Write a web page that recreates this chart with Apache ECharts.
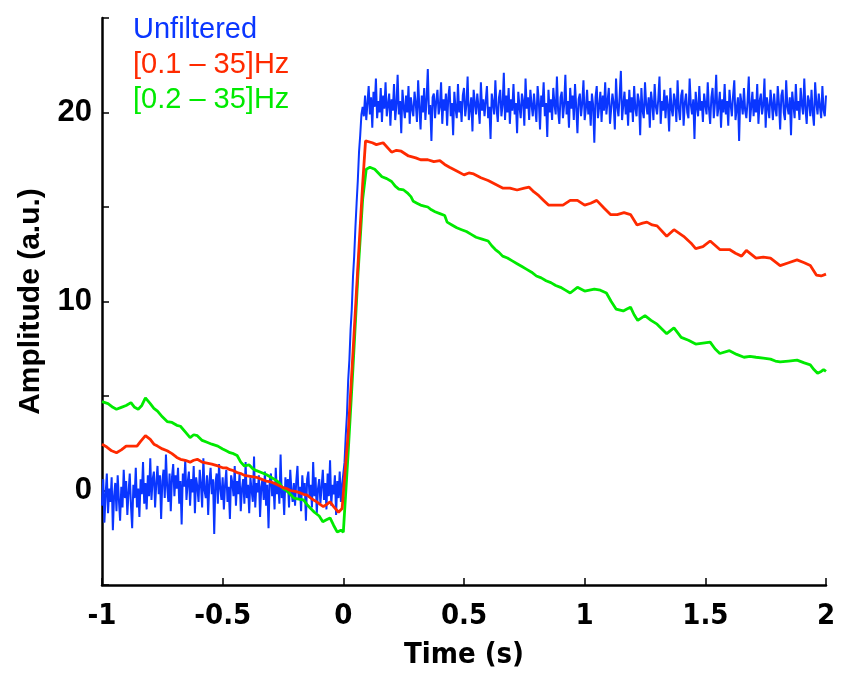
<!DOCTYPE html>
<html>
<head>
<meta charset="utf-8">
<script src="https://cdn.jsdelivr.net/npm/echarts@6/dist/echarts.min.js"></script>
<style>
  html, body { margin: 0; padding: 0; background: #fff; }
  #chart { width: 841px; height: 675px; }
</style>
</head>
<body>
<div id="chart"></div>
<script>
// series names (legend)
const seriesNames = ['Unfiltered', '[0.1 \u2013 35]Hz', '[0.2 \u2013 35]Hz']

// unfiltered signal, sampled every 0.005 s from -1 s
const blueStart = -1
const blueStep = 0.005
const blueValues = [
  // -1.0 .. 0
  -0.8, 0.6, -1.7, -0.2, 0.9, -1.2, 0.1, -0.6, 0.7, -2.1, -0.3, 0.4, -1.1, 0.8, -0.5, -1.6, 0.2, -0.9, 1.1, -0.4,
  0.5, -1.3, -0.1, 0.9, -0.8, -2.0, 0.3, -0.4, 1.2, -0.9, 0.1, -1.4, 0.6, -0.2, 1.5, -0.7, 0.4, -1.0, 0.8, -0.3,
  1.7, -0.5, 0.6, 1.0, -0.9, 0.4, 1.3, -0.2, 0.8, -1.5, 0.5, 1.1, -0.4, 1.9, 0.2, -0.6, 0.9, -1.1, 0.7, 1.4,
  -0.3, 0.8, 0.1, 1.2, -0.7, 0.5, -1.8, 0.9, 0.2, 1.6, -0.5, 0.4, 1.0, -0.8, 0.6, -0.1, 1.3, -1.2, 0.7, 0.2,
  -0.6, 1.1, 0.3, -0.9, 1.7, 0.0, -0.4, 0.8, -1.3, 0.5, 1.2, -0.2, 0.6, -2.3, 0.4, 0.9, -0.7, 1.4, 0.1, -0.5,
  0.7, -1.0, 0.3, 1.1, -0.6, 0.2, -1.5, 0.8, 0.4, -0.3, 1.3, -0.8, 0.5, -0.2, 0.9, -1.1, 0.1, 0.6, -0.7, 1.5,
  -0.4, 0.3, -1.2, 0.7, 0.0, -0.6, 1.8, -0.9, 0.4, -0.1, 0.8, -1.4, 0.2, 0.6, -0.5, 1.0, -0.8, 0.3, -2.0, 0.5,
  0.9, -0.3, 0.4, -1.0, 1.2, -0.2, 0.5, -0.7, 1.9, -0.4, 0.1, -1.3, 0.7, -0.1, 0.6, -0.9, 1.1, 0.0, -0.6, 0.4,
  -0.8, 0.5, 1.3, -0.5, 0.2, -1.1, 0.8, -0.2, 0.4, -1.6, 0.6, 1.0, -0.4, 0.3, -0.9, 1.5, -0.3, 0.7, -1.2, 0.1,
  0.6, -0.7, 0.2, 1.1, -0.5, 0.4, -1.0, 0.9, -0.3, 1.6, -0.8, 0.3, -0.2, 0.8, -1.3, 0.5, -0.4, 1.0, -0.6, 0.3,
  // step 0 .. 0.085
  0.4, 1.5, 2.9, 4.0, 5.8, 6.9, 8.5, 9.6, 11.3, 12.4, 13.9, 15.2, 16.4, 17.9, 18.8, 19.9, 20.3, 19.8,
  // 0.09 .. 2.0
  20.9, 19.6, 20.5, 21.4, 19.9, 20.8, 19.2, 21.1, 20.3, 21.8, 19.7, 20.6, 20.0, 21.3, 19.5, 20.9, 20.2, 21.6, 19.8, 20.4,
  21.0, 19.3, 20.7, 20.1, 21.5, 19.6, 20.4, 22.0, 19.9, 20.6, 18.9, 21.2, 20.3, 19.7, 20.9, 20.0, 21.4, 19.4, 20.8, 20.2,
  19.8, 21.1, 20.5, 19.5, 21.7, 20.3, 19.1, 20.9, 20.0, 21.3, 19.6, 20.7, 22.3, 19.9, 20.4, 18.5, 20.8, 21.0, 19.7, 20.6,
  21.2, 19.9, 20.3, 21.6, 19.4, 20.7, 20.1, 21.0, 19.3, 20.8, 21.4, 19.8, 20.5, 18.8, 21.1, 20.2, 19.7, 21.5, 20.0, 20.6,
  19.5, 20.9, 21.3, 19.8, 20.4, 21.9, 19.6, 20.2, 20.8, 19.0, 21.2, 20.5, 19.9, 21.0, 20.3, 19.4, 21.6, 20.1, 20.7, 19.8,
  20.6, 21.4, 19.7, 20.3, 18.6, 21.0, 20.5, 19.9, 21.7, 20.2, 19.5, 20.8, 21.2, 19.8, 20.4, 22.1, 19.6, 20.9, 20.0, 21.3,
  19.4, 20.7, 20.1, 21.5, 19.9, 20.5, 18.9, 21.1, 20.3, 19.7, 21.0, 20.6, 19.3, 21.8, 20.2, 20.8, 19.6, 21.2, 20.4, 19.8,
  21.0, 20.2, 19.5, 21.4, 20.6, 19.1, 20.9, 20.3, 21.6, 19.8, 20.5, 18.7, 21.2, 20.0, 20.7, 19.6, 21.3, 20.4, 19.9, 21.9,
  20.1, 19.4, 20.8, 21.1, 19.7, 20.4, 22.0, 19.9, 20.6, 19.2, 21.3, 20.2, 20.9, 19.6, 21.5, 20.3, 18.9, 20.7, 21.0, 19.8,
  20.5, 21.7, 19.6, 20.2, 21.2, 19.9, 20.6, 19.3, 21.0, 20.4, 18.4, 20.8, 21.4, 19.7, 20.3, 21.1, 19.5, 20.9, 20.1, 21.6,
  19.9, 20.6, 21.3, 19.4, 20.2, 21.0, 20.5, 19.1, 21.8, 20.3, 19.8, 20.9, 22.2, 19.6, 20.4, 21.1, 19.9, 20.7, 19.3, 21.2,
  20.0, 20.8, 19.5, 21.4, 20.2, 19.8, 21.0, 20.6, 18.8, 21.3, 20.1, 19.7, 21.6, 20.4, 19.9, 20.8, 19.2, 21.1, 20.5, 19.6,
  21.5, 20.3, 19.9, 20.7, 21.9, 19.4, 20.6, 20.1, 21.2, 19.7, 20.9, 20.4, 19.0, 21.3, 20.2, 19.8, 21.0, 20.6, 19.5, 21.7,
  20.2, 19.6, 20.9, 21.2, 19.3, 20.5, 21.0, 20.0, 19.7, 21.8, 20.4, 19.9, 20.7, 18.6, 21.1, 20.3, 19.8, 21.4, 20.1, 20.6,
  19.5, 21.0, 20.4, 19.9, 21.6, 20.2, 19.4, 20.8, 21.3, 19.7, 20.5, 22.0, 19.8, 20.3, 21.1, 19.2, 20.7, 20.0, 21.5, 19.9,
  20.6, 19.3, 21.2, 20.4, 19.8, 20.9, 21.7, 19.6, 20.2, 20.8, 18.5, 21.0, 20.5, 19.9, 21.3, 20.1, 19.7, 20.6, 21.9, 19.5,
  20.3, 21.1, 19.8, 20.7, 20.0, 21.5, 19.4, 20.6, 21.0, 19.9, 20.4, 21.8, 19.2, 20.8, 20.3, 19.7, 21.2, 20.5, 19.6, 21.0,
  20.2, 19.8, 21.4, 20.5, 19.1, 20.9, 21.2, 20.0, 19.6, 21.7, 20.3, 19.9, 20.8, 18.8, 21.1, 20.4, 19.7, 21.5, 20.1, 20.6,
  19.6, 21.3, 20.4, 19.9, 21.8, 20.2, 19.4, 20.9, 20.6, 19.8, 21.2, 20.0, 19.3, 21.6, 20.5, 19.9, 21.0, 20.3, 19.7, 21.4,
  20.1, 19.8, 20.9
]

// [0.1 - 35] Hz filtered: [time, amplitude]
const redPoints = [
  [-1.0, 2.45], [-0.98, 2.3], [-0.96, 2.1], [-0.94, 2.0], [-0.92, 2.15], [-0.9, 2.35], [-0.875, 2.35], [-0.855, 2.35],
  [-0.84, 2.6], [-0.82, 2.9], [-0.8, 2.7], [-0.785, 2.45], [-0.77, 2.35], [-0.75, 2.2], [-0.73, 2.1], [-0.71, 1.95],
  [-0.69, 1.75], [-0.675, 1.65], [-0.655, 1.6], [-0.635, 1.5], [-0.62, 1.6], [-0.605, 1.65], [-0.585, 1.5], [-0.565, 1.45],
  [-0.545, 1.4], [-0.52, 1.3], [-0.5, 1.2], [-0.485, 1.2], [-0.47, 1.1], [-0.455, 1.05], [-0.44, 0.95], [-0.425, 0.9],
  [-0.41, 0.8], [-0.385, 0.75], [-0.36, 0.7], [-0.34, 0.6], [-0.32, 0.5], [-0.3, 0.45], [-0.28, 0.35], [-0.265, 0.25],
  [-0.25, 0.15], [-0.235, 0.1], [-0.22, 0.0], [-0.2, -0.05], [-0.185, -0.1], [-0.165, -0.2], [-0.15, -0.25], [-0.13, -0.45],
  [-0.11, -0.6], [-0.095, -0.75], [-0.083, -0.85], [-0.07, -0.75], [-0.055, -0.6], [-0.04, -0.85], [-0.02, -1.15], [-0.005, -0.95],
  [0.0, -1.0], [0.02, 3.0], [0.04, 7.3], [0.06, 11.8], [0.08, 16.2], [0.092, 18.5], [0.1, 18.6], [0.12, 18.4],
  [0.137, 18.3], [0.165, 18.4], [0.2, 17.9], [0.22, 18.0], [0.24, 17.95], [0.27, 17.7], [0.3, 17.6], [0.32, 17.5],
  [0.35, 17.5], [0.375, 17.4], [0.4, 17.45], [0.42, 17.25], [0.44, 17.1], [0.47, 16.9], [0.5, 16.7], [0.52, 16.8],
  [0.54, 16.75], [0.57, 16.55], [0.6, 16.4], [0.63, 16.2], [0.66, 16.0], [0.69, 16.0], [0.72, 15.9], [0.75, 16.0],
  [0.77, 16.05], [0.79, 15.8], [0.81, 15.6], [0.83, 15.35], [0.85, 15.1], [0.88, 15.1], [0.91, 15.1], [0.94, 15.35],
  [0.97, 15.35], [1.0, 15.1], [1.025, 15.2], [1.05, 15.35], [1.08, 14.95], [1.107, 14.6], [1.135, 14.6], [1.163, 14.7],
  [1.19, 14.6], [1.217, 14.05], [1.24, 14.15], [1.258, 14.2], [1.28, 14.05], [1.3, 14.0], [1.34, 13.45], [1.37, 13.8],
  [1.41, 13.45], [1.44, 13.1], [1.46, 12.8], [1.49, 12.9], [1.52, 13.2], [1.56, 12.75], [1.6, 12.75], [1.625, 12.55],
  [1.65, 12.4], [1.67, 12.7], [1.71, 12.3], [1.74, 12.35], [1.77, 12.3], [1.81, 11.9], [1.845, 12.05], [1.88, 12.2],
  [1.91, 12.05], [1.935, 11.9], [1.96, 11.4], [1.98, 11.35], [2.0, 11.45]
]

// [0.2 - 35] Hz filtered: [time, amplitude]
const greenPoints = [
  [-1.0, 4.7], [-0.975, 4.6], [-0.955, 4.4], [-0.94, 4.3], [-0.92, 4.4], [-0.9, 4.5], [-0.88, 4.65], [-0.865, 4.4],
  [-0.85, 4.3], [-0.835, 4.5], [-0.82, 4.9], [-0.8, 4.6], [-0.785, 4.35], [-0.77, 4.2], [-0.75, 3.9], [-0.73, 3.65],
  [-0.71, 3.6], [-0.69, 3.45], [-0.675, 3.4], [-0.655, 3.1], [-0.635, 2.8], [-0.62, 2.95], [-0.605, 2.9], [-0.585, 2.65],
  [-0.565, 2.55], [-0.545, 2.45], [-0.52, 2.35], [-0.5, 2.2], [-0.485, 2.1], [-0.47, 2.0], [-0.455, 1.95], [-0.44, 1.85],
  [-0.425, 1.5], [-0.41, 1.3], [-0.39, 1.35], [-0.375, 1.15], [-0.36, 1.05], [-0.34, 0.95], [-0.32, 0.85], [-0.3, 0.7],
  [-0.28, 0.55], [-0.265, 0.4], [-0.25, 0.1], [-0.235, 0.0], [-0.22, -0.2], [-0.205, -0.4], [-0.185, -0.45], [-0.165, -0.5],
  [-0.15, -0.75], [-0.135, -0.95], [-0.12, -1.15], [-0.1, -1.35], [-0.085, -1.65], [-0.07, -1.55], [-0.055, -1.45], [-0.04, -1.85],
  [-0.025, -2.2], [-0.01, -2.1], [0.0, -2.2], [0.02, 2.0], [0.04, 6.5], [0.06, 11.3], [0.08, 15.4], [0.095, 17.0],
  [0.11, 17.1], [0.13, 17.0], [0.145, 16.8], [0.16, 16.6], [0.18, 16.5], [0.2, 16.35], [0.215, 16.1], [0.23, 15.95],
  [0.25, 15.9], [0.265, 15.75], [0.28, 15.55], [0.29, 15.3], [0.305, 15.2], [0.32, 15.1], [0.335, 15.05], [0.35, 15.0],
  [0.365, 14.85], [0.38, 14.75], [0.4, 14.65], [0.42, 14.55], [0.43, 14.2], [0.45, 14.05], [0.47, 13.9], [0.49, 13.8],
  [0.51, 13.7], [0.53, 13.55], [0.55, 13.4], [0.575, 13.3], [0.6, 13.2], [0.615, 12.95], [0.63, 12.75], [0.645, 12.6],
  [0.66, 12.4], [0.68, 12.3], [0.7, 12.15], [0.72, 12.0], [0.74, 11.85], [0.76, 11.7], [0.78, 11.55], [0.8, 11.35],
  [0.82, 11.25], [0.84, 11.1], [0.86, 11.0], [0.88, 10.85], [0.9, 10.75], [0.92, 10.6], [0.94, 10.45], [0.97, 10.75],
  [1.0, 10.55], [1.02, 10.6], [1.04, 10.65], [1.065, 10.6], [1.09, 10.45], [1.11, 10.0], [1.13, 9.6], [1.16, 9.5],
  [1.175, 9.6], [1.19, 9.7], [1.205, 9.3], [1.22, 9.0], [1.25, 9.25], [1.275, 9.0], [1.3, 8.8], [1.32, 8.55],
  [1.34, 8.3], [1.37, 8.6], [1.385, 8.35], [1.4, 8.1], [1.43, 7.95], [1.46, 7.75], [1.49, 7.8], [1.52, 7.85],
  [1.54, 7.5], [1.56, 7.25], [1.6, 7.4], [1.63, 7.2], [1.66, 7.05], [1.685, 7.1], [1.71, 7.05], [1.74, 7.0],
  [1.77, 6.95], [1.79, 6.85], [1.81, 6.8], [1.845, 6.85], [1.88, 6.9], [1.91, 6.75], [1.935, 6.65], [1.95, 6.4],
  [1.965, 6.2], [1.98, 6.3], [1.99, 6.4], [2.0, 6.3]
]

const colors = ['#0a36ff', '#ff2a00', '#00ea00']
const narrowFont = "'DejaVu Sans Condensed', 'Liberation Sans', sans-serif"

const bluePoints = blueValues.map((v, i) => [blueStart + i * blueStep, v])

const chart = echarts.init(document.getElementById('chart'))

const axisStyle = {
  axisLine: { onZero: false, lineStyle: { color: '#000', width: 2.5 } },
  axisTick: { inside: true, length: 7, lineStyle: { color: '#000', width: 1.5 } },
  splitLine: { show: false }
}

chart.setOption({
  animation: false,
  backgroundColor: '#fff',
  grid: { left: 102, right: 15, top: 18, bottom: 87 },
  legend: {
    orient: 'vertical',
    left: 123,
    top: 10,
    icon: 'none',
    itemWidth: 0,
    itemGap: 6,
    selectedMode: false,
    textStyle: { fontSize: 29, fontFamily: 'Liberation Sans', lineHeight: 29 },
    data: seriesNames.map((name, i) => ({ name: name, textStyle: { color: colors[i] } }))
  },
  xAxis: Object.assign({
    type: 'value',
    min: -1,
    max: 2,
    interval: 0.5,
    name: 'Time (s)',
    nameLocation: 'middle',
    nameGap: 56,
    nameTextStyle: { fontSize: 29, fontWeight: 'bold', fontFamily: narrowFont, color: '#000' },
    axisLabel: { fontSize: 29, fontWeight: 'bold', fontFamily: narrowFont, color: '#000', margin: 17 }
  }, axisStyle),
  yAxis: Object.assign({
    type: 'value',
    min: -5,
    max: 25,
    interval: 5,
    name: 'Amplitude (a.u.)',
    nameLocation: 'middle',
    nameGap: 56,
    nameTextStyle: { fontSize: 30, fontWeight: 'bold', fontFamily: 'Liberation Sans', color: '#000' },
    axisLabel: {
      fontSize: 31, fontWeight: 'bold', fontFamily: 'Liberation Sans', color: '#000', margin: 10,
      formatter: v => (v % 10 === 0 ? String(v) : '')
    }
  }, axisStyle),
  series: [
    {
      name: seriesNames[0], type: 'line', data: bluePoints, showSymbol: false,
      lineStyle: { color: colors[0], width: 2 }, itemStyle: { color: colors[0] }, z: 2
    },
    {
      name: seriesNames[2], type: 'line', data: greenPoints, showSymbol: false,
      lineStyle: { color: colors[2], width: 2.8 }, itemStyle: { color: colors[2] }, z: 3
    },
    {
      name: seriesNames[1], type: 'line', data: redPoints, showSymbol: false,
      lineStyle: { color: colors[1], width: 2.8 }, itemStyle: { color: colors[1] }, z: 4
    }
  ]
})
</script>
</body>
</html>
